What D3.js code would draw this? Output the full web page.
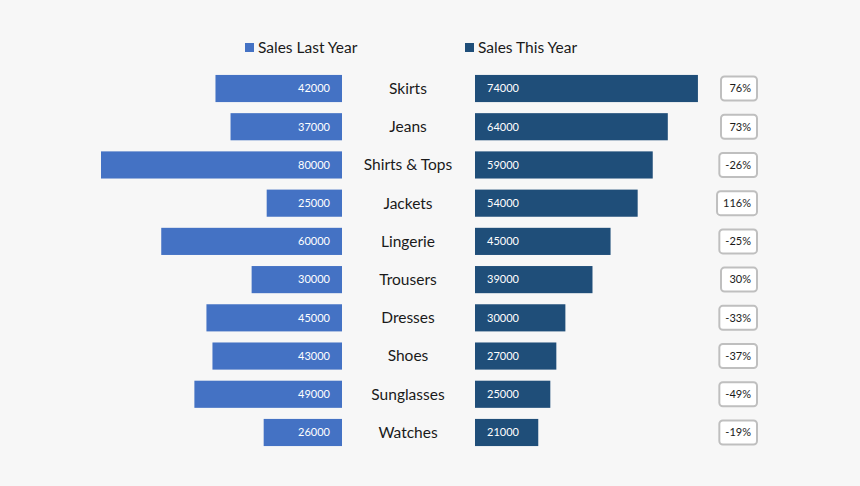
<!DOCTYPE html>
<html>
<head>
<meta charset="utf-8">
<script src="https://cdn.jsdelivr.net/npm/d3@7"></script>
<style>
  html, body { margin: 0; padding: 0; background: #f7f7f7; }
  svg { display: block; font-family: Lato, "Open Sans", sans-serif; }
</style>
</head>
<body>
<div id="chart"></div>
<script>
'use strict';

var categories = ['Skirts', 'Jeans', 'Shirts & Tops', 'Jackets', 'Lingerie',
                  'Trousers', 'Dresses', 'Shoes', 'Sunglasses', 'Watches'];
var lastYear = [42000, 37000, 80000, 25000, 60000, 30000, 45000, 43000, 49000, 26000];
var thisYear = [74000, 64000, 59000, 54000, 45000, 39000, 30000, 27000, 25000, 21000];
var seriesNames = ['Sales Last Year', 'Sales This Year'];
var colors = ['#4472c4', '#1f4e79'];

var width = 860, height = 486;

var svg = d3.select('#chart')
    .append('svg')
    .attr('width', width)
    .attr('height', height);

svg.append('rect')
    .attr('width', width)
    .attr('height', height)
    .attr('fill', '#f7f7f7');

var y = d3.scaleBand()
    .domain(categories)
    .range([69.4, 451.6])
    .paddingInner(0.29)
    .paddingOuter(0.145);

var xLeft = d3.scaleLinear().domain([0, 80000]).range([342, 101]);
var xRight = d3.scaleLinear().domain([0, 80000]).range([475, 716]);

var rows = categories.map(function (c, i) {
    return { name: c, last: lastYear[i], now: thisYear[i],
             change: Math.round((thisYear[i] - lastYear[i]) / lastYear[i] * 100) };
});

// legend
var legendX = [245, 465];
var legend = svg.selectAll('.legend')
    .data(seriesNames)
    .enter()
    .append('g')
    .attr('class', 'legend')
    .attr('transform', function (d, i) { return 'translate(' + legendX[i] + ',43)'; });

legend.append('rect')
    .attr('width', 9)
    .attr('height', 9)
    .attr('fill', function (d, i) { return colors[i]; });

legend.append('text')
    .attr('x', 13)
    .attr('y', 4.5)
    .attr('dy', '0.35em')
    .attr('font-size', 15.5)
    .attr('fill', '#1a1a1a')
    .text(function (d) { return d; });

var row = svg.selectAll('.row')
    .data(rows)
    .enter()
    .append('g')
    .attr('class', 'row');

// last year bars
row.append('rect')
    .attr('x', function (d) { return xLeft(d.last); })
    .attr('y', function (d) { return y(d.name); })
    .attr('width', function (d) { return xLeft(0) - xLeft(d.last); })
    .attr('height', y.bandwidth())
    .attr('fill', colors[0]);

row.append('text')
    .attr('x', xLeft(0) - 12)
    .attr('y', function (d) { return y(d.name) + y.bandwidth() / 2; })
    .attr('dy', '0.35em')
    .attr('text-anchor', 'end')
    .attr('font-size', 11)
    .attr('fill', '#ffffff')
    .text(function (d) { return d.last; });

// this year bars
row.append('rect')
    .attr('x', xRight(0))
    .attr('y', function (d) { return y(d.name); })
    .attr('width', function (d) { return xRight(d.now) - xRight(0); })
    .attr('height', y.bandwidth())
    .attr('fill', colors[1]);

row.append('text')
    .attr('x', xRight(0) + 12)
    .attr('y', function (d) { return y(d.name) + y.bandwidth() / 2; })
    .attr('dy', '0.35em')
    .attr('font-size', 11)
    .attr('fill', '#ffffff')
    .text(function (d) { return d.now; });

// category names
row.append('text')
    .attr('x', 408)
    .attr('y', function (d) { return y(d.name) + y.bandwidth() / 2; })
    .attr('dy', '0.35em')
    .attr('text-anchor', 'middle')
    .attr('font-size', 15.5)
    .attr('fill', '#1a1a1a')
    .text(function (d) { return d.name; });

// change boxes
var boxes = row.append('g')
    .attr('transform', function (d) {
        return 'translate(757,' + (y(d.name) + y.bandwidth() / 2) + ')';
    });

var boxText = boxes.append('text')
    .attr('x', -6)
    .attr('dy', '0.35em')
    .attr('text-anchor', 'end')
    .attr('font-size', 11)
    .attr('fill', '#1a1a1a')
    .text(function (d) { return d.change + '%'; });

boxes.insert('rect', 'text')
    .each(function (d, i) {
        var w = boxText.nodes()[i].getComputedTextLength() + 12;
        d3.select(this)
            .attr('x', -Math.max(w, 36))
            .attr('y', -12)
            .attr('width', Math.max(w, 36))
            .attr('height', 24);
    })
    .attr('rx', 3.5)
    .attr('fill', '#ffffff')
    .attr('stroke', '#bfbfbf')
    .attr('stroke-width', 2);
</script>
</body>
</html>
